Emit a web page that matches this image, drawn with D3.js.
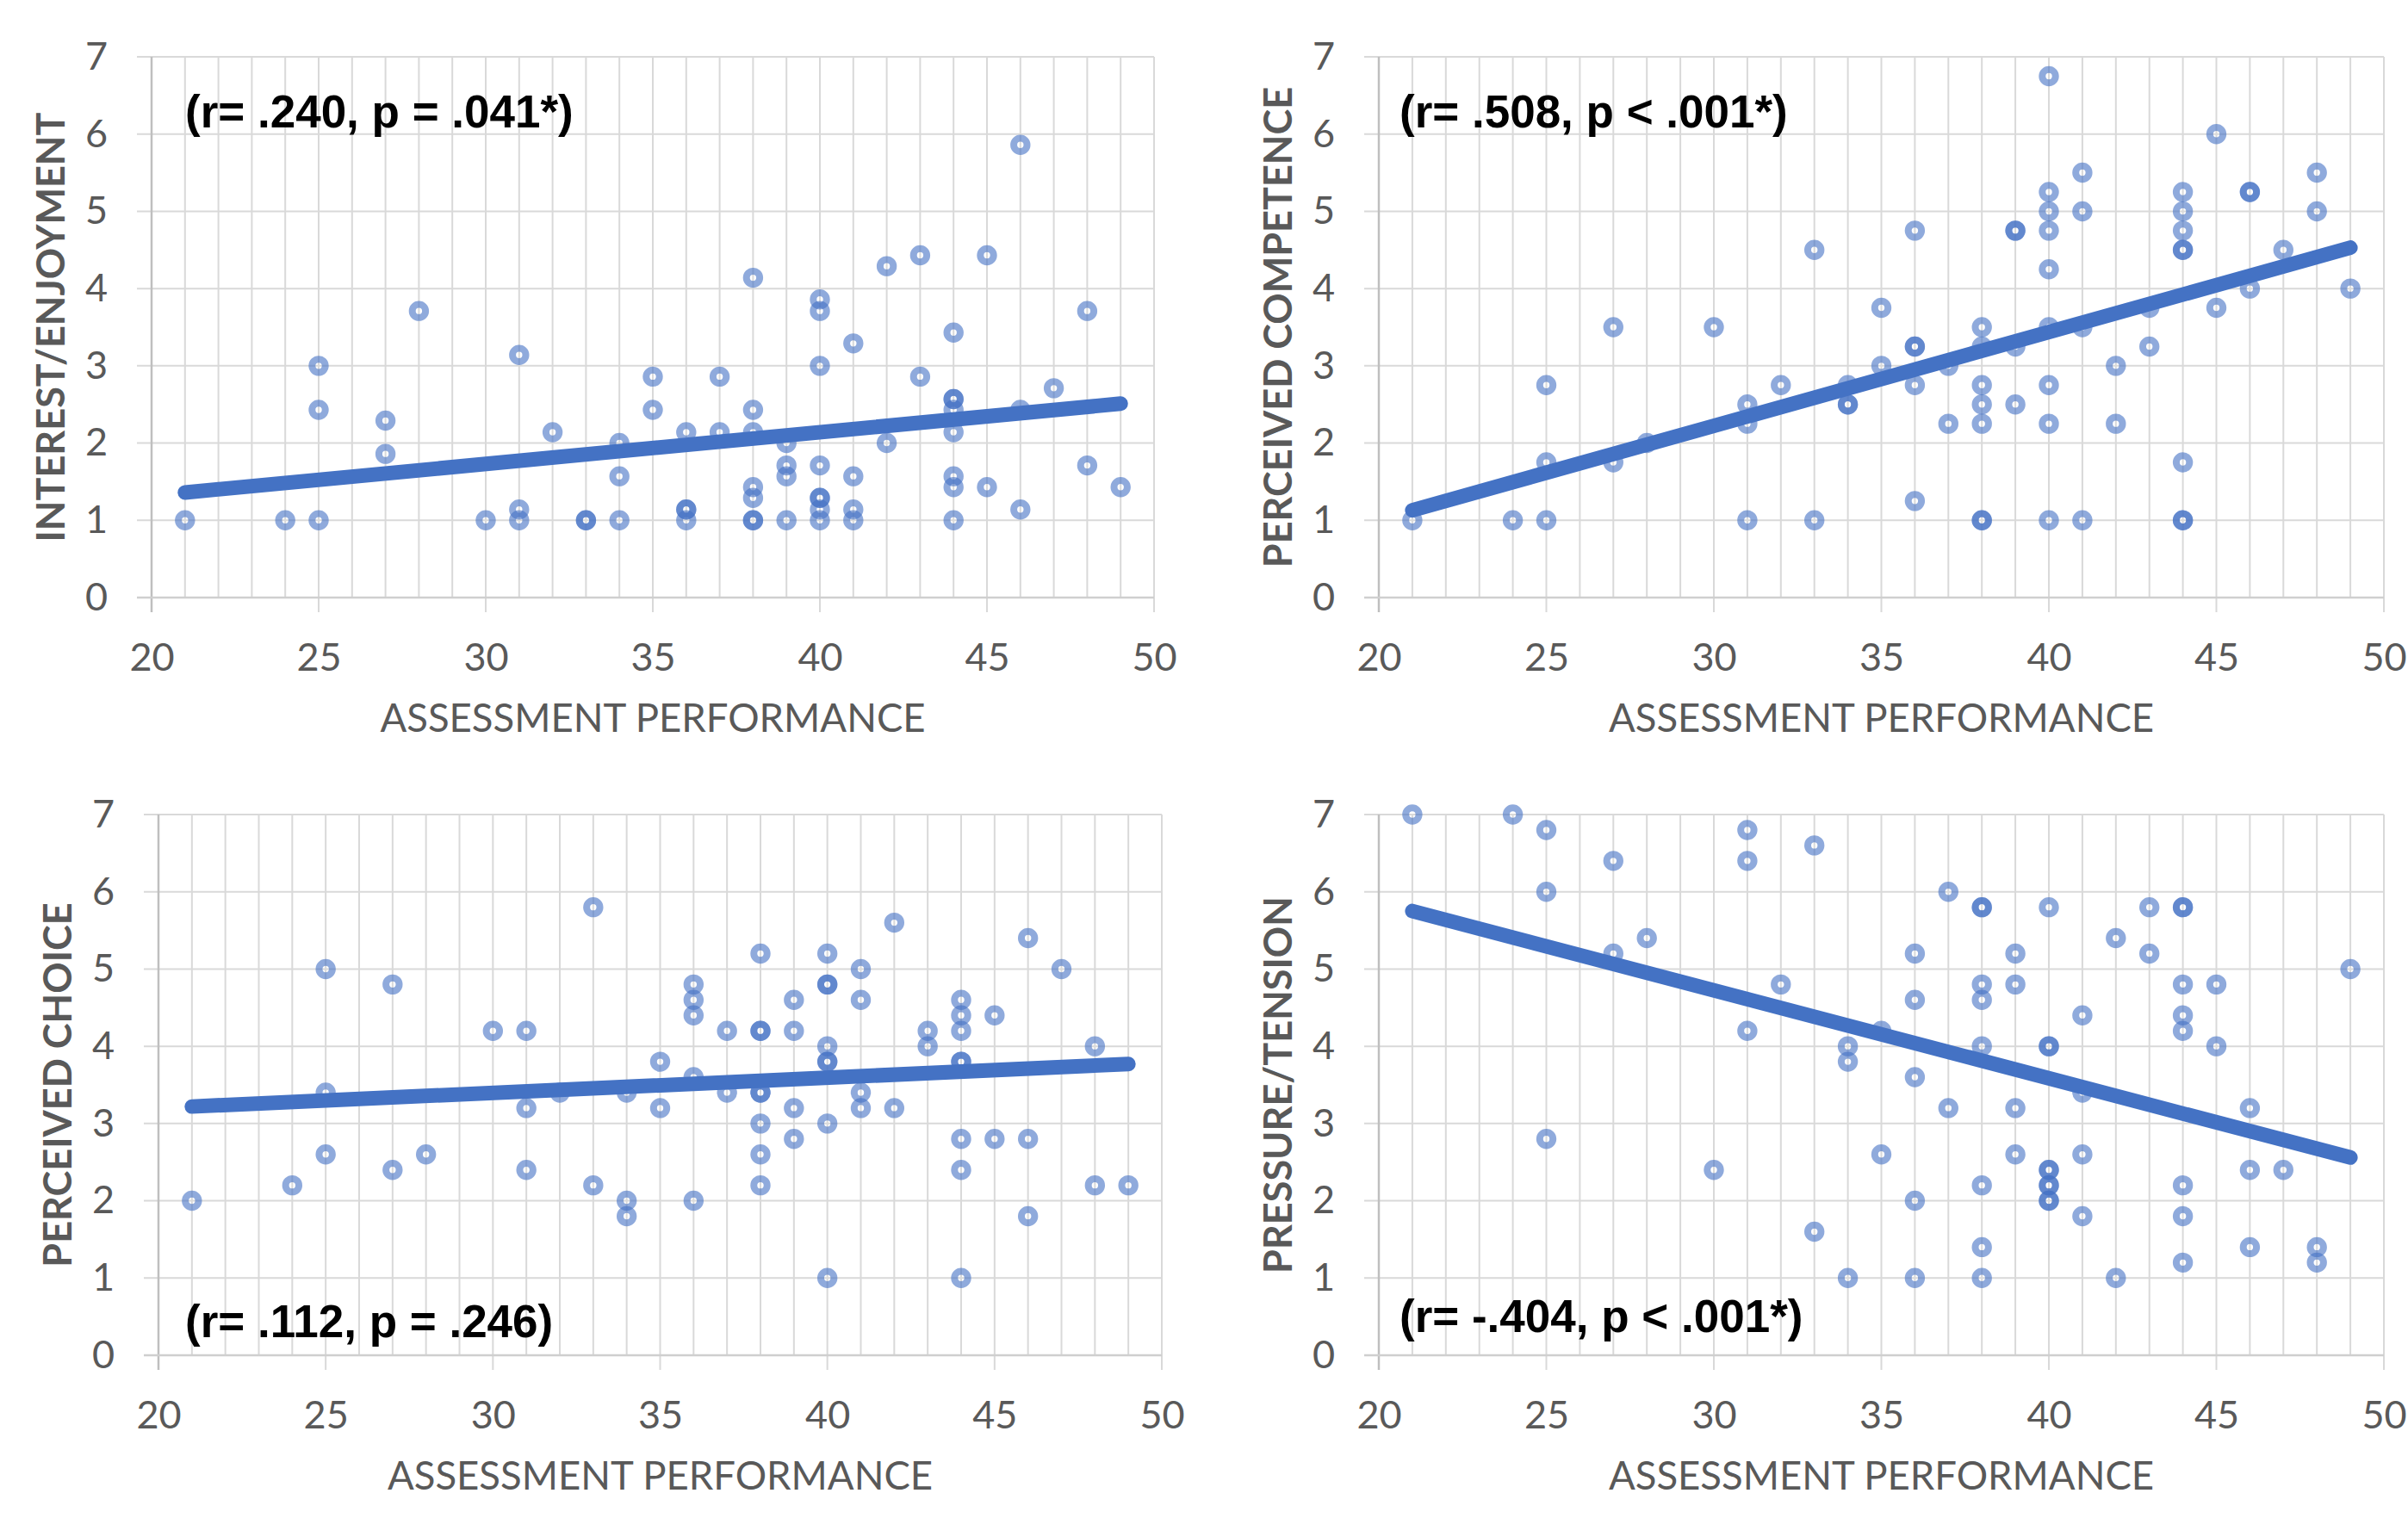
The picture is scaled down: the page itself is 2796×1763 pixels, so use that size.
<!DOCTYPE html>
<html><head><meta charset="utf-8">
<script src="https://cdn.jsdelivr.net/npm/d3@7"></script>
<style>body{margin:0;background:#fff}svg{display:block}</style>
</head><body>
<svg id="c" width="2796" height="1763"></svg>
<script>
// ---------- data ----------
const xTicks = [20, 25, 30, 35, 40, 45, 50];
const yTicks = [0, 1, 2, 3, 4, 5, 6, 7];
const xTitle = "ASSESSMENT PERFORMANCE";
const yTitles = ["INTEREST/ENJOYMENT", "PERCEIVED COMPETENCE", "PERCEIVED CHOICE", "PRESSURE/TENSION"];
const notes = ["(r= .240, p = .041*)", "(r= .508, p < .001*)", "(r= .112, p = .246)", "(r= -.404, p < .001*)"];

const interestPoints = [[21,1],[24,1],[25,3],[25,2.43],[25,1],[27,2.29],[27,1.86],[28,3.71],[30,1],[31,3.14],[31,1.14],[31,1],[32,2.14],[33,1],[33,1],[34,2],[34,1.57],[34,1],[35,2.86],[35,2.43],[36,2.14],[36,1.14],[36,1.14],[36,1],[37,2.86],[37,2.14],[38,4.14],[38,2.43],[38,2.14],[38,1.43],[38,1.29],[38,1],[38,1],[39,2],[39,1.71],[39,1.57],[39,1],[40,3.86],[40,3.71],[40,3],[40,1.71],[40,1.29],[40,1.29],[40,1.14],[40,1],[41,3.29],[41,1.57],[41,1.14],[41,1],[42,4.29],[42,2],[43,4.43],[43,2.86],[44,3.43],[44,2.57],[44,2.57],[44,2.43],[44,2.14],[44,1.57],[44,1.43],[44,1],[45,4.43],[45,1.43],[46,5.86],[46,2.43],[46,1.14],[47,2.71],[48,3.71],[48,1.71],[49,1.43]];
const competencePoints = [[21,1],[24,1],[25,2.75],[25,1.75],[25,1],[27,3.5],[27,1.75],[28,2],[30,3.5],[31,2.5],[31,2.25],[31,1],[32,2.75],[33,4.5],[33,1],[34,2.75],[34,2.5],[34,2.5],[35,3.75],[35,3],[36,4.75],[36,3.25],[36,3.25],[36,2.75],[36,1.25],[37,3],[37,2.25],[38,3.5],[38,3.25],[38,2.75],[38,2.5],[38,2.25],[38,1],[38,1],[39,4.75],[39,4.75],[39,3.25],[39,2.5],[40,6.75],[40,5.25],[40,5],[40,4.75],[40,4.25],[40,3.5],[40,2.75],[40,2.25],[40,1],[41,5.5],[41,5],[41,3.5],[41,1],[42,3],[42,2.25],[43,3.75],[43,3.25],[44,5.25],[44,5],[44,4.75],[44,4.5],[44,4.5],[44,1.75],[44,1],[44,1],[45,6],[45,3.75],[46,5.25],[46,5.25],[46,4],[47,4.5],[48,5.5],[48,5],[49,4]];
const choicePoints = [[21,2],[24,2.2],[25,5],[25,3.4],[25,2.6],[27,4.8],[27,2.4],[28,2.6],[30,4.2],[31,4.2],[31,3.2],[31,2.4],[32,3.4],[33,5.8],[33,2.2],[34,3.4],[34,2],[34,1.8],[35,3.8],[35,3.2],[36,4.8],[36,4.6],[36,4.4],[36,3.6],[36,2],[37,4.2],[37,3.4],[38,5.2],[38,4.2],[38,4.2],[38,3.4],[38,3.4],[38,3],[38,2.6],[38,2.2],[39,4.6],[39,4.2],[39,3.2],[39,2.8],[40,5.2],[40,4.8],[40,4.8],[40,4],[40,3.8],[40,3.8],[40,3],[40,1],[41,5],[41,4.6],[41,3.4],[41,3.2],[42,5.6],[42,3.2],[43,4.2],[43,4],[44,4.6],[44,4.4],[44,4.2],[44,3.8],[44,3.8],[44,2.8],[44,2.4],[44,1],[45,4.4],[45,2.8],[46,5.4],[46,2.8],[46,1.8],[47,5],[48,4],[48,2.2],[49,2.2]];
const pressurePoints = [[21,7],[24,7],[25,6.8],[25,6],[25,2.8],[27,6.4],[27,5.2],[28,5.4],[30,2.4],[31,6.8],[31,6.4],[31,4.2],[32,4.8],[33,6.6],[33,1.6],[34,4],[34,3.8],[34,1],[35,4.2],[35,2.6],[36,5.2],[36,4.6],[36,3.6],[36,2],[36,1],[37,6],[37,3.2],[38,5.8],[38,5.8],[38,4.8],[38,4.6],[38,4],[38,2.2],[38,1.4],[38,1],[39,5.2],[39,4.8],[39,3.2],[39,2.6],[40,5.8],[40,4],[40,4],[40,2.4],[40,2.4],[40,2.2],[40,2.2],[40,2],[40,2],[41,4.4],[41,3.4],[41,2.6],[41,1.8],[42,5.4],[42,1],[43,5.8],[43,5.2],[44,5.8],[44,5.8],[44,4.8],[44,4.4],[44,4.2],[44,2.2],[44,1.8],[44,1.2],[45,4.8],[45,4],[46,3.2],[46,2.4],[46,1.4],[47,2.4],[48,1.4],[48,1.2],[49,5]];

const interestTrend = [[21,1.36],[49,2.51]];
const competenceTrend = [[21,1.13],[49,4.53]];
const choiceTrend = [[21,3.22],[49,3.77]];
const pressureTrend = [[21,5.75],[49,2.56]];

// ---------- layout ----------
const panels = [
  {pts: interestPoints,   trend: interestTrend,   L: 176,  R: 1340, T: 66,  B: 694,  nx: 215,  ny: 148},
  {pts: competencePoints, trend: competenceTrend, L: 1601, R: 2768, T: 66,  B: 694,  nx: 1625, ny: 148},
  {pts: choicePoints,     trend: choiceTrend,     L: 184,  R: 1349, T: 946, B: 1574, nx: 215,  ny: 1553},
  {pts: pressurePoints,   trend: pressureTrend,   L: 1601, R: 2768, T: 946, B: 1574, nx: 1625, ny: 1547}
];

const svg = d3.select("#c");
svg.append("rect").attr("width", 2796).attr("height", 1763).attr("fill", "#fff");
const FONT = "Lato, 'Open Sans', sans-serif";
const FS = 45;
const grey = "#595959";
const blue = "#4472c4";

panels.forEach((p, i) => {
  const x = d3.scaleLinear().domain([xTicks[0], xTicks[xTicks.length-1]]).range([p.L, p.R]);
  const y = d3.scaleLinear().domain([yTicks[0], yTicks[yTicks.length-1]]).range([p.B, p.T]);
  const g = svg.append("g");

  // vertical gridlines (minor every 1, major ticks extend below)
  const minor = d3.range(xTicks[0], xTicks[xTicks.length-1] + 1, 1);
  g.append("g").selectAll("line").data(minor).join("line")
    .attr("x1", d => x(d)).attr("x2", d => x(d))
    .attr("y1", p.T).attr("y2", d => xTicks.includes(d) ? p.B + 17 : p.B)
    .attr("stroke", "#d9d9d9").attr("stroke-width", 2);
  // horizontal gridlines
  g.append("g").selectAll("line").data(yTicks).join("line")
    .attr("x1", p.L - 17).attr("x2", p.R)
    .attr("y1", d => y(d)).attr("y2", d => y(d))
    .attr("stroke", "#d9d9d9").attr("stroke-width", 2);
  // axis lines
  g.append("line").attr("x1", p.L).attr("x2", p.L).attr("y1", p.T).attr("y2", p.B + 17)
    .attr("stroke", "#bfbfbf").attr("stroke-width", 2.5);
  g.append("line").attr("x1", p.L - 17).attr("x2", p.R).attr("y1", p.B).attr("y2", p.B)
    .attr("stroke", "#cfcfcf").attr("stroke-width", 2.5);

  // axes labels
  const ax = g.append("g").attr("transform", `translate(0,${p.B})`)
    .call(d3.axisBottom(x).tickValues(xTicks).tickFormat(d3.format("d")).tickSize(0).tickPadding(53));
  ax.select(".domain").remove();
  ax.selectAll("text").attr("font-family", FONT).attr("font-size", FS).attr("fill", grey);
  const ay = g.append("g").attr("transform", `translate(${p.L},0)`)
    .call(d3.axisLeft(y).tickValues(yTicks).tickFormat(d3.format("d")).tickSize(0).tickPadding(51));
  ay.select(".domain").remove();
  ay.selectAll("text").attr("font-family", FONT).attr("font-size", FS).attr("fill", grey);

  // axis titles
  g.append("text").attr("x", (p.L + p.R) / 2).attr("y", p.B + 156)
    .attr("text-anchor", "middle").attr("font-family", FONT).attr("font-size", 45.5)
    .attr("fill", grey).text(xTitle);
  g.append("text").attr("transform", `translate(${p.L - 101},${(p.T + p.B) / 2}) rotate(-90)`)
    .attr("text-anchor", "middle").attr("font-family", FONT).attr("font-size", 45)
    .attr("font-weight", "bold").attr("fill", grey).text(yTitles[i]);

  // points
  g.append("g").selectAll("circle").data(p.pts).join("circle")
    .attr("cx", d => x(d[0])).attr("cy", d => y(d[1])).attr("r", 7.7)
    .attr("fill", "none").attr("stroke", blue).attr("stroke-opacity", 0.6).attr("stroke-width", 8);

  // trendline
  g.append("path").datum(p.trend)
    .attr("d", d3.line().x(d => x(d[0])).y(d => y(d[1])))
    .attr("fill", "none").attr("stroke", blue).attr("stroke-width", 17).attr("stroke-linecap", "round");

  // annotation
  g.append("text").attr("x", p.nx).attr("y", p.ny)
    .attr("font-family", "'Liberation Sans', Arial, sans-serif").attr("font-weight", "bold")
    .attr("font-size", 53).attr("fill", "#000").text(notes[i]);
});
</script>
</body></html>
